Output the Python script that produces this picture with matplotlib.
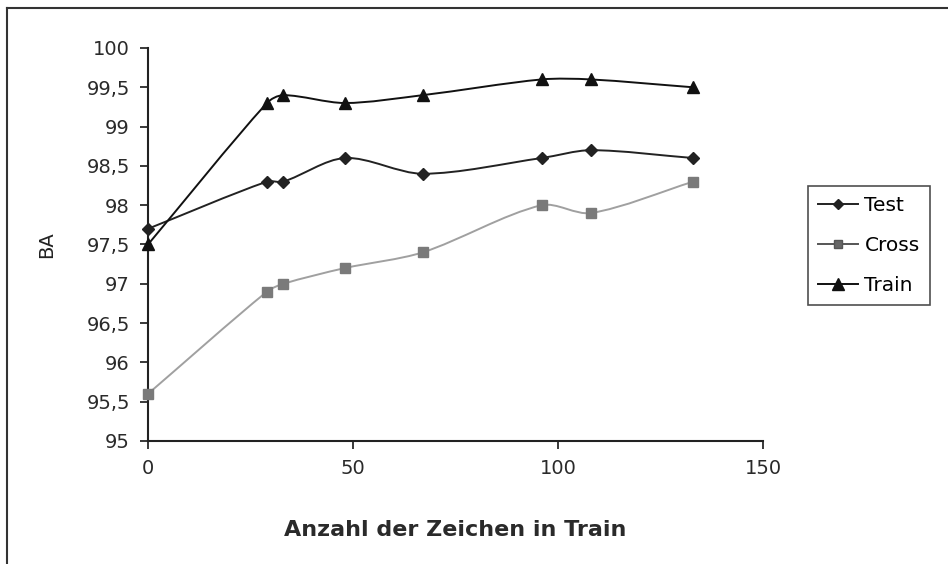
import numpy as np
import matplotlib
matplotlib.use('Agg')
import matplotlib.pyplot as plt
from matplotlib.path import Path
from matplotlib.patches import PathPatch
from matplotlib.lines import Line2D

plt.rcParams['font.family'] = ['DejaVu Sans']

# Daten
zeichen = [0, 29, 33, 48, 67, 96, 108, 133]
test = [97.7, 98.3, 98.3, 98.6, 98.4, 98.6, 98.7, 98.6]
cross = [95.6, 96.9, 97.0, 97.2, 97.4, 98.0, 97.9, 98.3]
train = [97.5, 99.3, 99.4, 99.3, 99.4, 99.6, 99.6, 99.5]

# Pixel pro Einheit (fuer die Glaettung)
SX, SY = 4.1, 78.6


def smooth_path(x, y, k=0.3):
    # Bezier-Kurve durch die Punkte (wie Excel "geglaettete Linie")
    p = np.column_stack([np.asarray(x, float) * SX, np.asarray(y, float) * SY])
    n = len(p)
    tang = []
    for i in range(n):
        d = p[min(i + 1, n - 1)] - p[max(i - 1, 0)]
        tang.append(d / np.hypot(*d))
    verts = [p[0]]
    codes = [Path.MOVETO]
    for i in range(n - 1):
        L = np.hypot(*(p[i + 1] - p[i]))
        verts += [p[i] + tang[i] * L * k, p[i + 1] - tang[i + 1] * L * k, p[i + 1]]
        codes += [Path.CURVE4] * 3
    verts = np.array(verts) / [SX, SY]
    return Path(verts, codes)


fig = plt.figure(figsize=(9.48, 5.64), dpi=100)
ax = fig.add_axes([148 / 948, 1 - 441 / 564, (763 - 148) / 948, (441 - 48) / 564])

series = [
    ('Test', test, '#222222', '#222222', 'D', 6.5),
    ('Cross', cross, '#a0a0a0', '#7a7a7a', 's', 6.5),
    ('Train', train, '#111111', '#111111', '^', 8),
]
for name, vals, lc, mc, m, ms in series:
    ax.add_patch(PathPatch(smooth_path(zeichen, vals), fill=False, edgecolor=lc,
                           lw=1.4, zorder=2))
    ax.plot(zeichen, vals, linestyle='none', marker=m, markersize=ms,
            color=mc, markeredgecolor=mc, zorder=3, clip_on=False)

ax.set_xlim(0, 150)
ax.set_ylim(95, 100)
ax.set_xticks([0, 50, 100, 150])
ax.set_yticks(np.arange(95, 100.01, 0.5))
ax.set_yticklabels(['95', '95,5', '96', '96,5', '97', '97,5', '98', '98,5', '99', '99,5', '100'])
for s in ['top', 'right']:
    ax.spines[s].set_visible(False)
for s in ['left', 'bottom']:
    ax.spines[s].set_linewidth(1.5)
    ax.spines[s].set_color('#222222')
ax.tick_params(direction='out', length=6, width=1.3, labelsize=14, colors='#2a2a2a', pad=7)
ax.set_ylabel('BA', fontsize=14, labelpad=22, color='#222222')
ax.set_xlabel('Anzahl der Zeichen in Train', fontsize=16, fontweight='bold',
              labelpad=30, color='#2a2a2a')

handles = [
    Line2D([], [], color='#222222', lw=1.4, marker='D', markersize=5.5),
    Line2D([], [], color='#555555', lw=1.4, marker='s', markersize=5.5, markerfacecolor='#666666'),
    Line2D([], [], color='#111111', lw=1.4, marker='^', markersize=8),
]
leg = fig.legend(handles, ['Test', 'Cross', 'Train'], loc='upper left',
                 bbox_to_anchor=(808 / 948, 1 - 186 / 564), fontsize=14.5,
                 frameon=True, fancybox=False, edgecolor='#222222',
                 handlelength=2.0, handletextpad=0.3, borderpad=0.5,
                 labelspacing=1.05, borderaxespad=0)
leg.get_frame().set_linewidth(1.2)

# Rahmen um das Diagramm
fig.add_artist(Line2D([7 / 948, 7 / 948], [0, 1 - 8 / 564], color='#333333', lw=1.5))
fig.add_artist(Line2D([7 / 948, 1], [1 - 8 / 564, 1 - 8 / 564], color='#333333', lw=1.5))

plt.savefig('out.png', dpi=100)
